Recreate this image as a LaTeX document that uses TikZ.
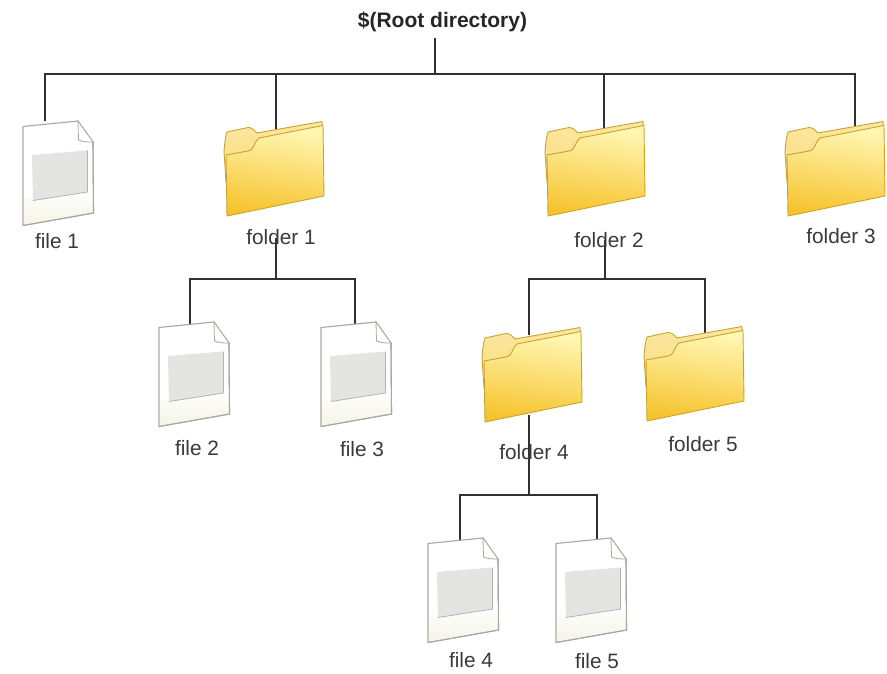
\documentclass[tikz,border=0pt]{standalone}
\usepackage{fontspec}
\setmainfont{Liberation Sans}
\definecolor{txt}{HTML}{3A3A3A}
\definecolor{linec}{HTML}{303030}
\definecolor{fedge}{HTML}{C8A42E}
\definecolor{ftop}{HTML}{FFF6A8}
\definecolor{fback}{HTML}{F9DC78}
\definecolor{fbot}{HTML}{F6C32C}
\definecolor{pedge}{HTML}{A8A8A2}
\definecolor{pgray}{HTML}{E4E4E2}
\definecolor{pbeige}{HTML}{F5F4E6}
\tikzset{
  x=1pt,y=-1pt,
  lab/.style={font=\fontsize{20.8}{22}\selectfont,text=txt,inner sep=0pt},
  rootlab/.style={font=\fontsize{21}{23}\selectfont\bfseries,text=black!85,inner sep=0pt},
  conn/.style={draw=linec,line width=1.1pt},
  iconpt/.style={inner sep=0pt,minimum size=0pt},
  pics/folder/.style={code={
    % back panel and tab
    \path[draw=fedge,line width=.9pt,top color=fback!70!white,bottom color=fback]
      (0,30) .. controls (.5,22) and (1.5,14) .. (3,10) -- (24,5.5)
      .. controls (28,5.5) and (30,8) .. (33,11) -- (98,-0.5) -- (99,40) -- (2,60) -- cycle;
    % front panel
    \path[draw=fedge,line width=.9pt,top color=ftop!85!white,bottom color=fbot,shading angle=-8]
      (2,33) -- (24,29) .. controls (31,28) and (30,19) .. (35,16)
      -- (99,3.5) -- (100,74) -- (3,94) -- cycle;
  }},
  pics/paper/.style={code={
    \path[draw=pedge,line width=1.1pt,fill=white]
      (0,5.5) -- (55,0) -- (70,21) -- (70.5,92) -- (0,104.5) -- cycle;
    \path[top color=white,bottom color=pbeige] (1,78) -- (69.5,66) -- (69.5,91.5) -- (1,103.5) -- cycle;
    \path[draw=pedge,line width=1.1pt] (70,21) -- (70.5,92) -- (0,104.5);
    \path[draw=pedge,line width=.8pt,fill=white] (55,0) -- (55.5,19) .. controls (60,21) and (65,21) .. (70,21) -- cycle;
    \path[fill=pgray] (9,34) -- (64,29.5) -- (64,71) -- (10,79.5) -- cycle;
    \draw[black!30,line width=.8pt] (64.5,29.5) -- (64.5,71) -- (10,79.5);
  }}
}
\begin{document}
\begin{tikzpicture}
\useasboundingbox[fill=white] (0,0) rectangle (887,674);
% root
\node[rootlab] (root) at (442.5,22) {\$(Root directory)};
% icon anchors
\node[iconpt] (stemtop) at (435,38) {};
\node[iconpt] (file1top) at (45,121) {};
\node[iconpt] (folder1top) at (276,132) {};
\node[iconpt] (folder2top) at (604,132) {};
\node[iconpt] (folder3top) at (855,132) {};
\node[iconpt] (folder1lab) at (276,238) {};
\node[iconpt] (folder2lab) at (605,240) {};
\node[iconpt] (file2top) at (190,324) {};
\node[iconpt] (file3top) at (355,324) {};
\node[iconpt] (folder4top) at (529,335) {};
\node[iconpt] (folder5top) at (705,335) {};
\node[iconpt] (folder4bot) at (529,415) {};
\node[iconpt] (file4top) at (460,540) {};
\node[iconpt] (file5top) at (597,540) {};
\coordinate (rootj) at (435,74);
\coordinate (f1j) at (276,279);
\coordinate (f2j) at (605,279);
\coordinate (f4j) at (529,495);
% connectors
\draw[conn] (stemtop) -- (rootj);
\draw[conn] (file1top) |- (rootj);
\draw[conn] (folder1top) |- (rootj);
\draw[conn] (folder2top) |- (rootj);
\draw[conn] (folder3top) |- (rootj);
\draw[conn] (folder1lab) -- (f1j);
\draw[conn] (file2top) |- (f1j);
\draw[conn] (file3top) |- (f1j);
\draw[conn] (folder2lab) -- (f2j);
\draw[conn] (folder4top) |- (f2j);
\draw[conn] (folder5top) |- (f2j);
\draw[conn] (folder4bot) -- (f4j);
\draw[conn] (file4top) |- (f4j);
\draw[conn] (file5top) |- (f4j);
% icons
\path (224,122) pic {folder};
\path (545,122) pic {folder};
\path (785,122) pic {folder};
\path (482,328) pic {folder};
\path (644,327) pic {folder};
\path (23,121) pic {paper};
\path (159,322) pic {paper};
\path (321,322) pic {paper};
\path (428,538) pic {paper};
\path (556,538) pic {paper};
% labels
\node[lab] (l1) at (57,241) {file 1};
\node[lab] (l2) at (281,237) {folder 1};
\node[lab] (l3) at (609,240) {folder 2};
\node[lab] (l4) at (841,236) {folder 3};
\node[lab] (l5) at (197,448) {file 2};
\node[lab] (l6) at (362,449) {file 3};
\node[lab] (l7) at (534,452) {folder 4};
\node[lab] (l8) at (703,444) {folder 5};
\node[lab] (l9) at (471,660) {file 4};
\node[lab] (l10) at (597,661) {file 5};
\end{tikzpicture}
\end{document}
